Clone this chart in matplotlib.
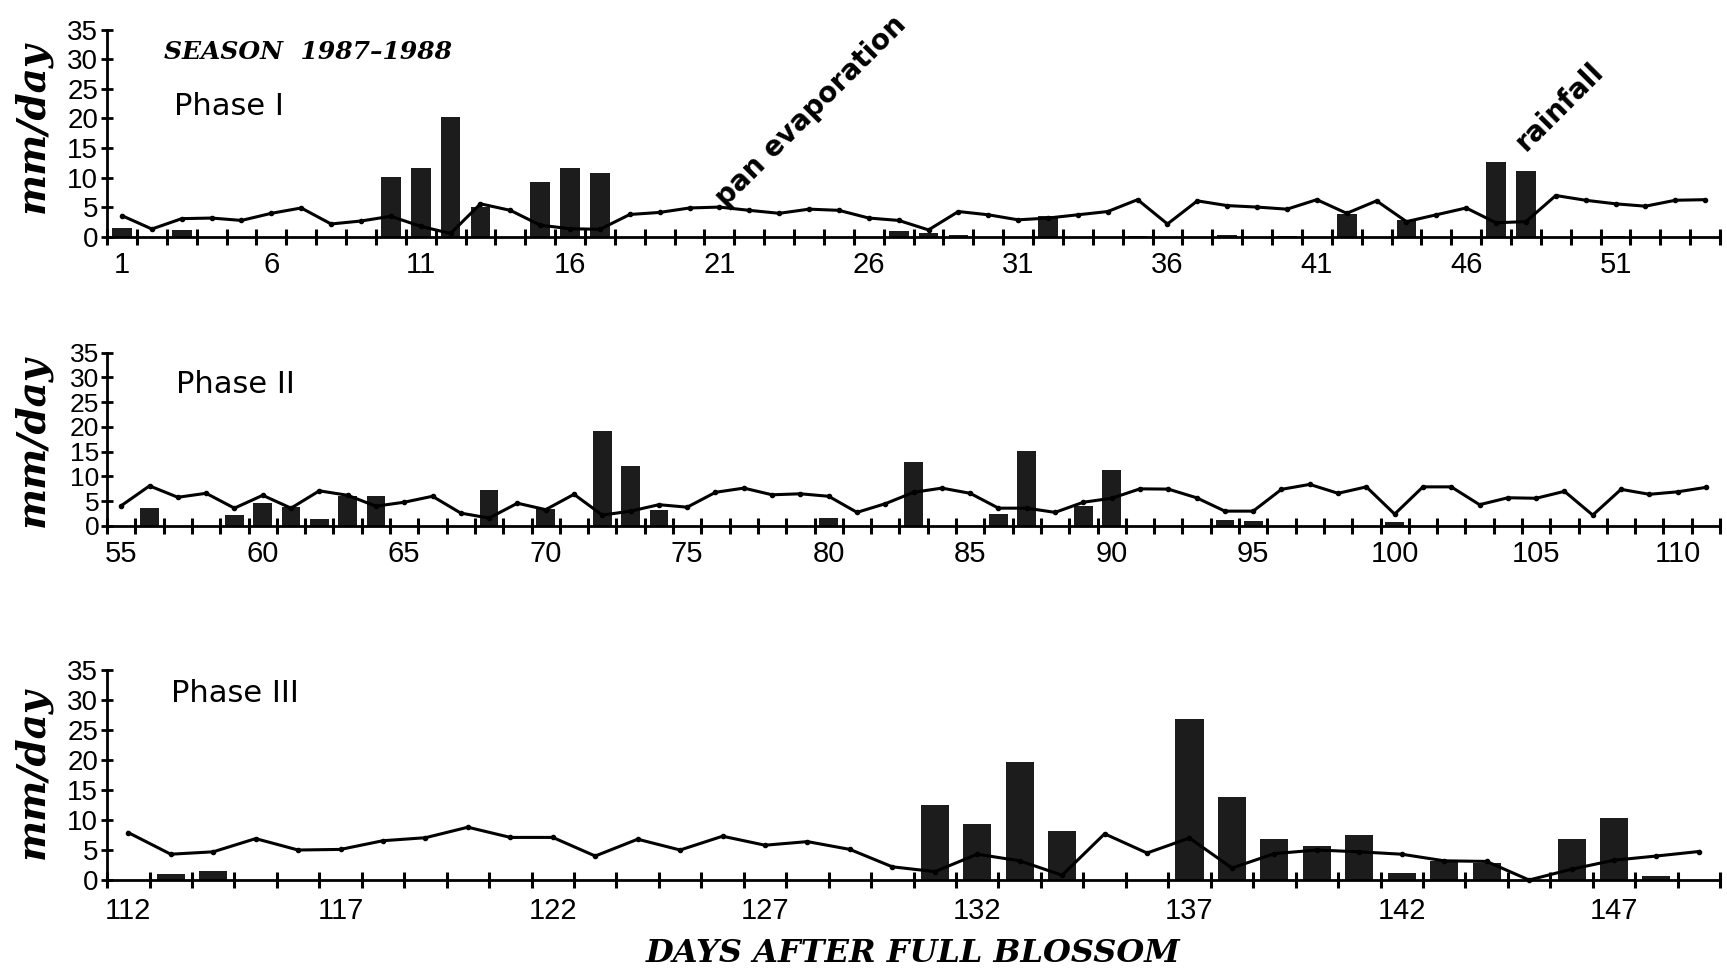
import matplotlib
matplotlib.use("Agg")
import matplotlib.pyplot as plt
import numpy as np

plt.rcParams['font.family'] = ['Liberation Sans', 'DejaVu Sans']

# ---------------- data ----------------
phase1_days = list(range(1, 55))
phase1_evap = [3.6, 1.35, 3.1, 3.2, 2.8, 4.0, 4.9, 2.2, 2.7, 3.5,
               1.8, 0.6, 5.6, 4.5, 2.0, 1.4, 1.3, 3.8, 4.15, 4.9,
               5.05, 4.5, 4.0, 4.7, 4.5, 3.2, 2.8, 1.2, 4.3, 3.75,
               2.9, 3.2, 3.75, 4.3, 6.3, 2.2, 6.1, 5.3, 5.05, 4.7,
               6.3, 4.0, 6.1, 2.6, 3.75, 4.9, 2.4, 2.6, 7.0, 6.2,
               5.6, 5.2, 6.2, 6.3]
phase1_rain_days = [1, 3, 10, 11, 12, 13, 15, 16, 17, 27, 28, 29, 32, 35, 38, 40, 42, 44, 47, 48, 51]
phase1_rain = [1.5, 1.2, 10.1, 11.7, 20.2, 5.0, 9.2, 11.7, 10.8, 1.0, 0.7, 0.3, 3.5, 0.2, 0.4, 0.2,
               3.8, 2.9, 12.6, 11.1, 0.2]

phase2_days = list(range(55, 112))
phase2_evap = [4.1, 8.1, 5.8, 6.6, 3.6, 6.2, 3.6, 7.1, 6.2, 4.0,
               4.8, 6.0, 2.6, 1.6, 4.6, 3.3, 6.4, 2.2, 3.0, 4.3,
               3.8, 6.8, 7.65, 6.3, 6.5, 6.0, 2.75, 4.5, 6.8, 7.65,
               6.6, 3.6, 3.6, 2.75, 4.8, 5.6, 7.5, 7.45, 5.7, 3.0,
               3.0, 7.4, 8.4, 6.6, 7.9, 2.4, 7.9, 7.9, 4.3, 5.7,
               5.6, 7.0, 2.2, 7.4, 6.4, 6.9, 7.8]
phase2_rain_days = [56, 59, 60, 61, 62, 63, 64, 68, 70, 72, 73, 74, 80, 83, 86, 87, 89, 90, 94, 95, 100]
phase2_rain = [3.6, 2.3, 4.6, 3.8, 1.5, 6.0, 6.0, 7.2, 3.4, 19.1, 12.1, 3.3, 1.6, 12.9, 2.5, 15.2,
               4.0, 11.3, 1.2, 1.0, 0.8]

phase3_days = list(range(112, 150))
phase3_evap = [7.9, 4.3, 4.7, 6.9, 5.0, 5.1, 6.55, 7.05, 8.8, 7.1,
               7.1, 4.0, 6.8, 5.0, 7.3, 5.8, 6.4, 5.1, 2.2, 1.4,
               4.3, 3.2, 0.8, 7.7, 4.5, 7.0, 2.0, 4.4, 5.0, 4.7,
               4.3, 3.2, 3.1, 0.0, 1.8, 3.3, 4.0, 4.75]
phase3_rain_days = [113, 114, 131, 132, 133, 134, 137, 138, 139, 140, 141, 142, 143, 144, 146, 147, 148]
phase3_rain = [0.95, 1.55, 12.5, 9.4, 19.6, 8.2, 26.9, 13.8, 6.85, 5.6, 7.5, 1.2, 3.2, 2.8,
               6.9, 10.3, 0.6]

phase1_labels = [1, 6, 11, 16, 21, 26, 31, 36, 41, 46, 51]
phase2_labels = [55, 60, 65, 70, 75, 80, 85, 90, 95, 100, 105, 110]
phase3_labels = [112, 117, 122, 127, 132, 137, 142, 147]
y_ticks = [0, 5, 10, 15, 20, 25, 30, 35]

phase_names = ["Phase I", "Phase II", "Phase III"]

# ---------------- figure ----------------
fig = plt.figure(figsize=(17.27, 9.71), dpi=100)
rects = [[0.062, 0.7559, 0.934, 0.2137],
         [0.062, 0.4583, 0.934, 0.1785],
         [0.062, 0.0937, 0.934, 0.2163]]
panels = [(phase1_days, phase1_evap, phase1_rain_days, phase1_rain, phase1_labels),
          (phase2_days, phase2_evap, phase2_rain_days, phase2_rain, phase2_labels),
          (phase3_days, phase3_evap, phase3_rain_days, phase3_rain, phase3_labels)]
ypads = [2, 1, 2]
ysizes = [20, 19, 20]
xpads = [10, 10, 12]
ylab_y = [0.53, 0.49, 0.51]
name_pos = [(0.0415, 0.63), (0.043, 0.814), (0.0397, 0.89)]

serif_bi = dict(family='DejaVu Serif', weight='bold', style='italic')
axes = []
for i, (rect, (days, evap, rdays, rain, labels)) in enumerate(zip(rects, panels)):
    ax = fig.add_axes(rect)
    axes.append(ax)
    ax.bar(rdays, rain, width=0.66, color='#1c1c1c', zorder=2)
    ax.plot(days, evap, color='black', lw=2.2, marker='o', ms=3, zorder=3, clip_on=False)
    d0, d1 = days[0], days[-1]
    ax.set_xlim(d0 - 0.5, d1 + 0.5)
    ax.set_ylim(0, 35)
    for s in ['top', 'right']:
        ax.spines[s].set_visible(False)
    for s in ['left', 'bottom']:
        ax.spines[s].set_linewidth(2.0)
    ax.set_xticks(np.arange(d0 - 0.5, d1 + 1.0, 1.0))
    ax.set_xticklabels([])
    ax.set_xticks(labels, minor=True)
    ax.set_xticklabels([str(v) for v in labels], minor=True)
    ax.tick_params(axis='x', which='major', direction='inout', length=12, width=2.2)
    ax.tick_params(axis='x', which='minor', length=0, pad=xpads[i], labelsize=21)
    ax.set_yticks(y_ticks)
    ax.tick_params(axis='y', direction='inout', length=9, width=2.0,
                   labelsize=ysizes[i], pad=ypads[i])
    ax.set_ylabel('mm/day', fontsize=28, va='center', **serif_bi)
    ax.yaxis.set_label_coords(-0.046, ylab_y[i])
    ax.text(name_pos[i][0], name_pos[i][1], phase_names[i], transform=ax.transAxes,
            ha='left', va='center', fontsize=22, family='DejaVu Sans')

ax1 = axes[0]
ax1.text(0.035, 0.892, 'SEASON  1987\u20131988', transform=ax1.transAxes,
         ha='left', va='center', fontsize=18, **serif_bi)
ax1.text(21.2, 5.0, 'pan evaporation', rotation=45, rotation_mode='anchor',
         ha='left', va='baseline', fontsize=20, fontweight='bold', family='DejaVu Sans')
ax1.text(48.0, 14.3, 'rainfall', rotation=45, rotation_mode='anchor',
         ha='left', va='baseline', fontsize=20, fontweight='bold', family='DejaVu Sans')

fig.text(0.5287, 0.0185, 'DAYS AFTER FULL BLOSSOM', ha='center', va='center',
         fontsize=23, **serif_bi)

fig.savefig('out.png', dpi=100)
